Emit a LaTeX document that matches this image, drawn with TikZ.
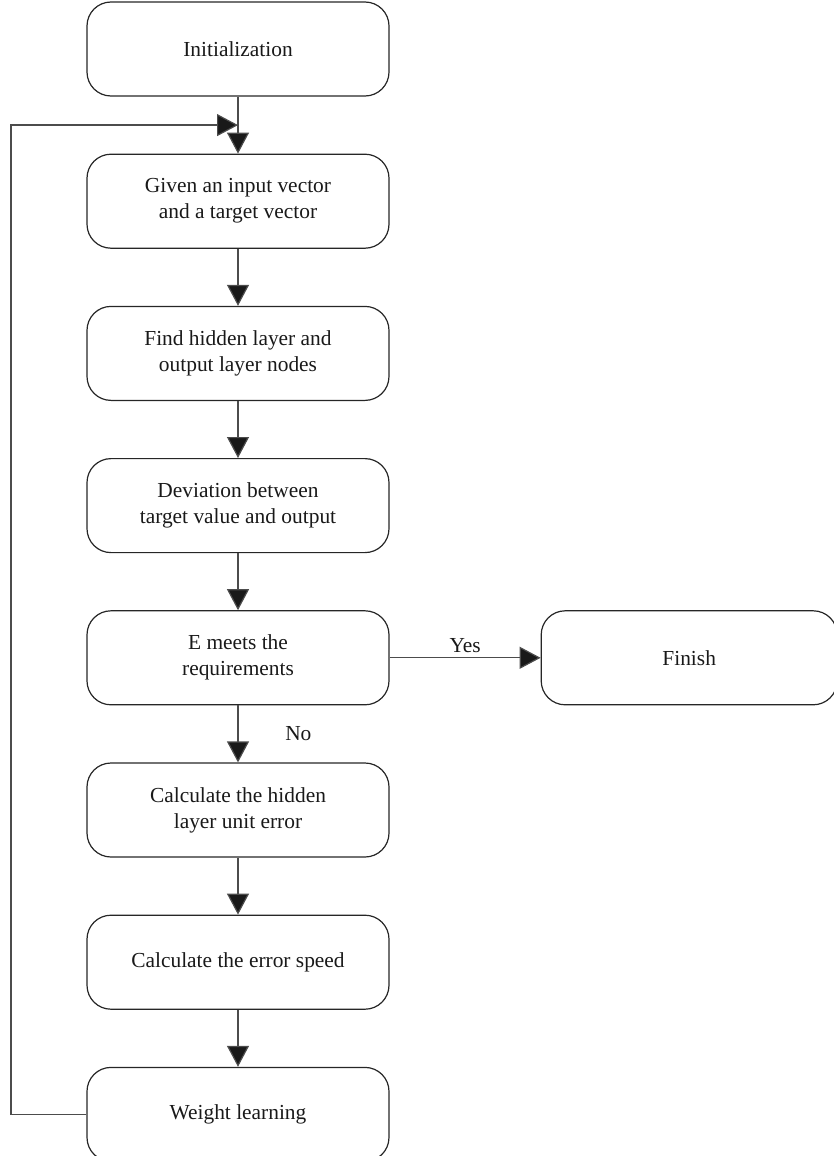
\documentclass[tikz,border=0pt]{standalone}
\usepackage{fontspec}
\setmainfont{Liberation Serif}
\usetikzlibrary{positioning,arrows.meta,calc}

\tikzset{
  stepbox/.style={draw=black!85, line width=0.6pt, rounded corners=12pt,
    minimum width=151pt, minimum height=47pt, align=center,
    font=\fontsize{10.7}{13}\selectfont, text=black!90},
  flow/.style={draw=black!70, line width=0.6pt,
    -{Triangle[length=10.5pt,width=11pt,fill=black!90]}},
  lbl/.style={font=\fontsize{10.7}{13}\selectfont, text=black!90}
}

\begin{document}
\begin{tikzpicture}[node distance=28.5pt]
	\useasboundingbox (0,0) rectangle (417pt,-578pt);
	%main column
	\node[stepbox] (init) at (119pt,-24.5pt) {Initialization};
	\node[stepbox, below=of init] (given) {Given an input vector\\and a target vector};
	\node[stepbox, below=of given] (find) {Find hidden layer and\\output layer nodes};
	\node[stepbox, below=of find] (dev) {Deviation between\\target value and output};
	\node[stepbox, below=of dev] (meet) {E meets the\\requirements};
	\node[stepbox, below=of meet] (hid) {Calculate the hidden\\layer unit error};
	\node[stepbox, below=of hid] (speed) {Calculate the error speed};
	\node[stepbox, below=of speed] (wl) {Weight learning};
	%finish
	\node[stepbox, minimum width=148pt, right=75.5pt of meet] (fin) {Finish};

	\coordinate (join) at ($(init.south)!0.5!(given.north)$);
	\coordinate (left) at (5.5pt,0);

	\draw[flow] (init) -- (given);
	\draw[flow] (given) -- (find);
	\draw[flow] (find) -- (dev);
	\draw[flow] (dev) -- (meet);
	\draw[flow] (meet) -- node[lbl, right=20pt] {No} (hid);
	\draw[flow] (hid) -- (speed);
	\draw[flow] (speed) -- (wl);
	\draw[flow] (meet) -- node[lbl, above=-1pt] {Yes} (fin);
	%loop back
	\draw[flow] (wl.west) -| (left |- join) -- (join);
\end{tikzpicture}
\end{document}
